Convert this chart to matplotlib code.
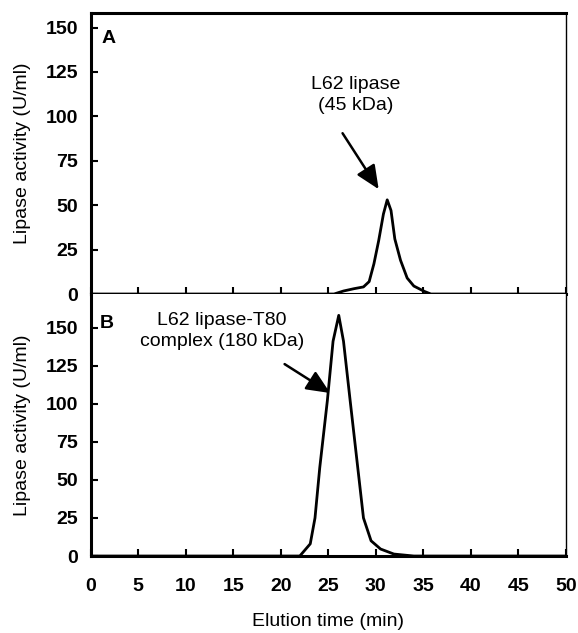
import numpy as np
import matplotlib.pyplot as plt

plt.rcParams['font.family'] = ['Liberation Sans', 'DejaVu Sans']

# panel A: free L62 lipase
time_a = [0, 25.6, 26.6, 27.7, 28.7, 29.3, 29.8, 30.3, 30.8, 31.2, 31.6, 32.0, 32.6, 33.3, 34.0, 35.1, 35.8, 50]
act_a = [0, 0, 1.7, 3, 4, 7, 17, 30, 45, 53, 47, 31, 19, 9, 4.5, 1.5, 0, 0]

# panel B: lipase-T80 complex
time_b = [0, 22.0, 23.1, 23.6, 24.1, 24.9, 25.5, 26.1, 26.6, 27.3, 28.1, 28.7, 29.5, 30.5, 31.9, 34.0, 50]
act_b = [0, 0, 8, 25, 58, 102, 141, 158, 141, 102, 58, 25, 10, 4.6, 1.3, 0, 0]

yticks = [0, 25, 50, 75, 100, 125, 150]
xticks = list(range(0, 51, 5))
fs = 14

fig = plt.figure(figsize=(5.78, 6.33), dpi=100)
ax1 = fig.add_axes([0.157, 0.5355, 0.822, 0.4435])
ax2 = fig.add_axes([0.157, 0.1216, 0.822, 0.4139])

arrow = dict(arrowstyle='-|>,head_length=0.9,head_width=0.4', color='black',
             lw=1.8, shrinkA=0, shrinkB=0, mutation_scale=16)

for ax in (ax1, ax2):
    ax.set_xlim(0, 50)
    ax.set_xticks(xticks)
    ax.set_yticks(yticks)
    ax.tick_params(direction='in', length=5, width=1.5, labelsize=fs, pad=9)
    ax.tick_params(axis='x', pad=16)
    ax.tick_params(top=False, right=False)
    for lab in ax.get_xticklabels() + ax.get_yticklabels():
        lab.set_fontweight('bold')
    for s in ['left', 'bottom', 'top']:
        ax.spines[s].set_linewidth(2.2)
    ax.spines['right'].set_linewidth(1.0)
    ax.set_ylabel('Lipase activity (U/ml)', fontsize=fs)
    ax.yaxis.set_label_coords(-0.125, 0.5)

ax1.plot(time_a, act_a, color='black', lw=2, solid_joinstyle='round')
ax1.set_ylim(0, 158)
ax1.tick_params(labelbottom=False)
ax1.text(0.023, 0.893, 'A', transform=ax1.transAxes, fontsize=fs, fontweight='bold')
ax1.text(27.9, 112, 'L62 lipase\n(45 kDa)', ha='center', va='center',
         fontsize=fs, linespacing=1.25)
ax1.annotate('', xy=(30.3, 59), xytext=(26.5, 90.5), arrowprops=arrow)

ax2.plot(time_b, act_b, color='black', lw=2, solid_joinstyle='round')
ax2.set_ylim(0, 172)
ax2.spines['top'].set_visible(False)
ax2.text(0.02, 0.87, 'B', transform=ax2.transAxes, fontsize=fs, fontweight='bold')
ax2.text(13.8, 148, 'L62 lipase-T80\ncomplex (180 kDa)', ha='center', va='center',
         fontsize=fs, linespacing=1.3)
ax2.annotate('', xy=(25.2, 107), xytext=(20.4, 126), arrowprops=arrow)
ax2.set_xlabel('Elution time (min)', fontsize=fs, labelpad=13)

fig.savefig('out.png', dpi=100)
